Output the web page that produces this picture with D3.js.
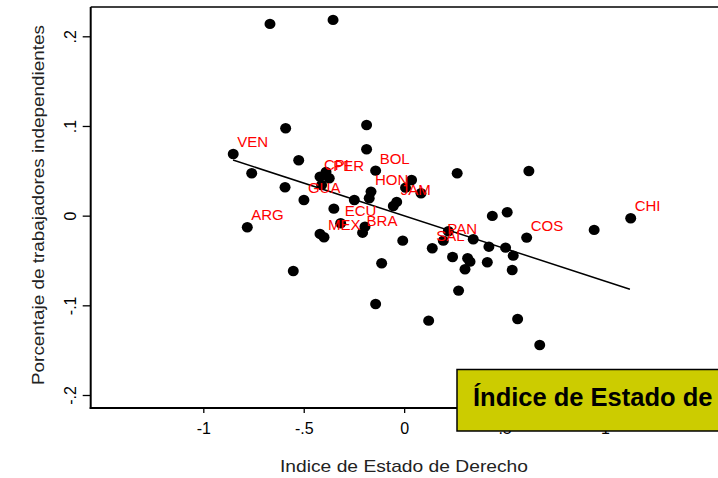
<!DOCTYPE html>
<html><head><meta charset="utf-8">
<script src="https://cdn.jsdelivr.net/npm/d3@7"></script>
<style>html,body{margin:0;padding:0;background:#fff;overflow:hidden}svg{display:block}</style>
</head><body>
<svg id="c" width="718" height="478"></svg>
<script>
const xValues = [-0.668,-0.354,-0.590,-0.187,-0.851,-0.187,-0.525,-0.759,-0.142,-0.419,-0.389,-0.373,-0.411,-0.593,0.037,0.007,0.084,-0.165,-0.174,-0.499,-0.248,-0.037,-0.054,-0.350,-0.781,-0.316,-0.195,-0.207,-0.419,-0.399,-0.007,0.220,0.195,0.140,0.513,0.439,1.128,0.946,0.610,0.344,0.422,0.505,0.543,0.241,0.316,0.328,0.414,0.303,0.538,-0.112,0.271,-0.142,0.122,0.565,0.675,-0.552,0.264,0.621];
const yValues = [0.2138,0.2183,0.0975,0.1011,0.0688,0.0740,0.0618,0.0473,0.0502,0.0435,0.0487,0.0417,0.0342,0.0317,0.0398,0.0312,0.0250,0.0268,0.0194,0.0175,0.0175,0.0153,0.0108,0.0078,-0.0129,-0.0085,-0.0123,-0.0190,-0.0204,-0.0241,-0.0279,-0.0174,-0.0279,-0.0364,0.0038,-0.0003,-0.0029,-0.0159,-0.0245,-0.0263,-0.0346,-0.0357,-0.0446,-0.0461,-0.0475,-0.0513,-0.0520,-0.0598,-0.0606,-0.0531,-0.0836,-0.0985,-0.1171,-0.1152,-0.1442,-0.0617,0.0473,0.0498];
const countryCodes = ["","","","","VEN","","","","BOL","CPI","","PER","","","","","","HON","","GUA","","JAM","","","ARG","ECU","","BRA","","MEX","","","PAN","SAL","","","CHI","","COS","","","","","","","","","","","","","","","","","","",""];
const fitX = [-0.852, 1.124];
const fitY = [0.062, -0.082];
const xTicks = [-1, -0.5, 0, 0.5, 1];
const xTickLabels = ["-1", "-.5", "0", ".5", "1"];
const yTicks = [-0.2, -0.1, 0, 0.1, 0.2];
const yTickLabels = ["-.2", "-.1", "0", ".1", ".2"];
const xTitle = "Indice de Estado de Derecho";
const yTitle = "Porcentaje de trabajadores independientes";
const boxText = "Índice de Estado de";

const svg = d3.select("#c");
const font = "'Liberation Sans', Arial, Helvetica, sans-serif";
const x = d3.scaleLinear().domain([-1, 1]).range([203.3, 605]);
const y = d3.scaleLinear().domain([-0.2, 0.2]).range([395, 36.3]);
const frameLeft = 90.7, frameTop = 7, frameBottom = 408, frameRight = 722;

svg.append("line").attr("x1", frameLeft).attr("x2", frameRight).attr("y1", frameTop).attr("y2", frameTop)
  .attr("stroke", "#000").attr("stroke-width", 1.5);

const yAxis = svg.append("g").attr("transform", `translate(${frameLeft},0)`)
  .call(d3.axisLeft(y).tickValues(yTicks).tickSize(8).tickSizeOuter(0)
    .tickFormat((d, i) => yTickLabels[i]));
yAxis.select(".domain").remove();
yAxis.selectAll(".tick line").attr("stroke", "#000").attr("stroke-width", 1.3);
yAxis.selectAll(".tick text")
  .attr("transform", "rotate(-90)").attr("x", 0).attr("y", -15.2).attr("dy", 0)
  .attr("text-anchor", "middle").attr("font-family", font).attr("font-size", 16).attr("fill", "#000");

const xAxis = svg.append("g").attr("transform", `translate(0,${frameBottom})`)
  .call(d3.axisBottom(x).tickValues(xTicks).tickSize(5).tickSizeOuter(0)
    .tickFormat((d, i) => xTickLabels[i]));
xAxis.select(".domain").remove();
xAxis.selectAll(".tick line").attr("stroke", "#000").attr("stroke-width", 1.3);
xAxis.selectAll(".tick text").attr("y", 26).attr("dy", 0)
  .attr("font-family", font).attr("font-size", 16).attr("fill", "#000");

svg.append("line").attr("x1", frameLeft).attr("x2", frameLeft).attr("y1", frameTop).attr("y2", frameBottom + 1)
  .attr("stroke", "#000").attr("stroke-width", 2);
svg.append("line").attr("x1", frameLeft - 1).attr("x2", frameRight).attr("y1", frameBottom).attr("y2", frameBottom)
  .attr("stroke", "#000").attr("stroke-width", 2);

svg.append("text").attr("x", 404).attr("y", 472).attr("text-anchor", "middle")
  .attr("font-family", font).attr("font-size", 17).attr("fill", "#222")
  .attr("textLength", 248).attr("lengthAdjust", "spacingAndGlyphs").text(xTitle);
svg.append("text").attr("transform", "translate(44,205) rotate(-90)").attr("text-anchor", "middle")
  .attr("font-family", font).attr("font-size", 17).attr("fill", "#222")
  .attr("textLength", 360).attr("lengthAdjust", "spacingAndGlyphs").text(yTitle);

const pts = xValues.map((v, i) => ({x: v, y: yValues[i], code: countryCodes[i]}));
svg.append("g").selectAll("ellipse").data(pts).join("ellipse")
  .attr("cx", d => x(d.x)).attr("cy", d => y(d.y)).attr("rx", 5.5).attr("ry", 5.2).attr("fill", "#000");

const fit = fitX.map((v, i) => [x(v), y(fitY[i])]);
svg.append("path").attr("d", d3.line()(fit)).attr("stroke", "#000").attr("stroke-width", 1.5).attr("fill", "none");

svg.append("g").selectAll("text").data(pts.filter(d => d.code)).join("text")
  .attr("x", d => x(d.x) + 4).attr("y", d => y(d.y) - 7)
  .attr("font-family", font).attr("font-size", 15).attr("fill", "#ff0000").text(d => d.code);

svg.append("rect").attr("x", 457).attr("y", 369.5).attr("width", 280).attr("height", 61.5)
  .attr("fill", "#cccc00").attr("stroke", "#000").attr("stroke-width", 1.5);
svg.append("text").attr("x", 473).attr("y", 406).attr("font-family", font).attr("font-weight", "bold")
  .attr("font-size", 25.5).attr("fill", "#000").text(boxText);
</script>
</body></html>
